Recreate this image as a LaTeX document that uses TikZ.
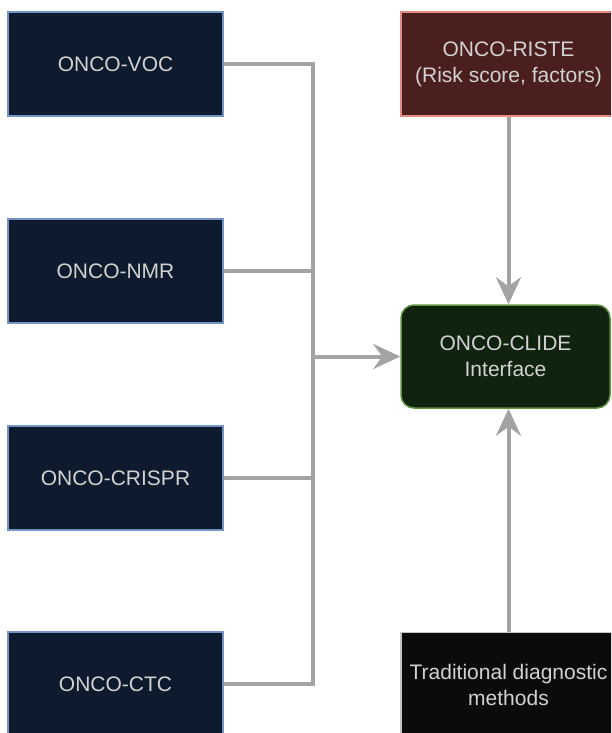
\documentclass[tikz,border=0pt]{standalone}
\usepackage{fontspec}
\setmainfont{Liberation Sans}
\usetikzlibrary{arrows.meta}
\definecolor{navyfill}{HTML}{0E1B2E}
\definecolor{navyline}{HTML}{7393C4}
\definecolor{redfill}{HTML}{4A1F1E}
\definecolor{redline}{HTML}{E88A84}
\definecolor{greenfill}{HTML}{10230F}
\definecolor{greenline}{HTML}{5E9140}
\definecolor{blackfill}{HTML}{0B0B0B}
\definecolor{blackline}{HTML}{C4C4C4}
\definecolor{labeltext}{HTML}{D2D2D2}
\definecolor{wire}{HTML}{A3A3A3}
\tikzset{
  module/.style={rectangle, draw=navyline, fill=navyfill, line width=1.5pt,
    minimum width=215pt, minimum height=104pt, inner sep=0pt,
    text=labeltext, align=center,
    font=\fontsize{21}{26}\selectfont},
  riskbox/.style={module, draw=redline, fill=redfill},
  hubbox/.style={module, draw=greenline, fill=greenfill, rounded corners=13pt,
    minimum width=209pt, minimum height=103pt},
  legacybox/.style={module, draw=blackline, fill=blackfill},
  wireline/.style={draw=wire, line width=4pt},
  wirearrow/.style={wireline, -{Stealth[length=27pt,width=25pt,inset=9pt]}},
}
\begin{document}
\begin{tikzpicture}[x=1pt,y=-1pt]
\useasboundingbox (0,0) rectangle (611,733);
\clip (0,0) rectangle (611,733);

% input modules on the left
\node[module] (voc)    at (115.5,64)  {ONCO-VOC};
\node[module] (nmr)    at (115.5,271) {ONCO-NMR};
\node[module] (crispr) at (115.5,478) {ONCO-CRISPR};
\node[module] (ctc)    at (115.5,684) {ONCO-CTC};

% right column
\node[riskbox]   (riste) at (508.5,64)    {ONCO-RISTE\\(Risk score, factors)};
\node[hubbox]    (clide) at (505.5,356.5) {ONCO-CLIDE\\Interface};
\node[legacybox] (trad)  at (508.5,684.5) {Traditional diagnostic\\methods};

% shared bus collecting the four modules
\coordinate (join) at (312.5,356.5);
\draw[wireline, line join=miter] (voc.east) -| (join);
\draw[wireline, line join=miter] (ctc.east) -| (join);
\draw[wireline] (nmr.east) -- (nmr.east -| join);
\draw[wireline] (crispr.east) -- (crispr.east -| join);
\draw[wirearrow] (join) -- (clide.west);

% vertical feeds into the interface
\draw[wirearrow] (riste.south) -- (riste.south |- clide.north);
\draw[wirearrow] (trad.north) -- (trad.north |- clide.south);
\end{tikzpicture}
\end{document}
